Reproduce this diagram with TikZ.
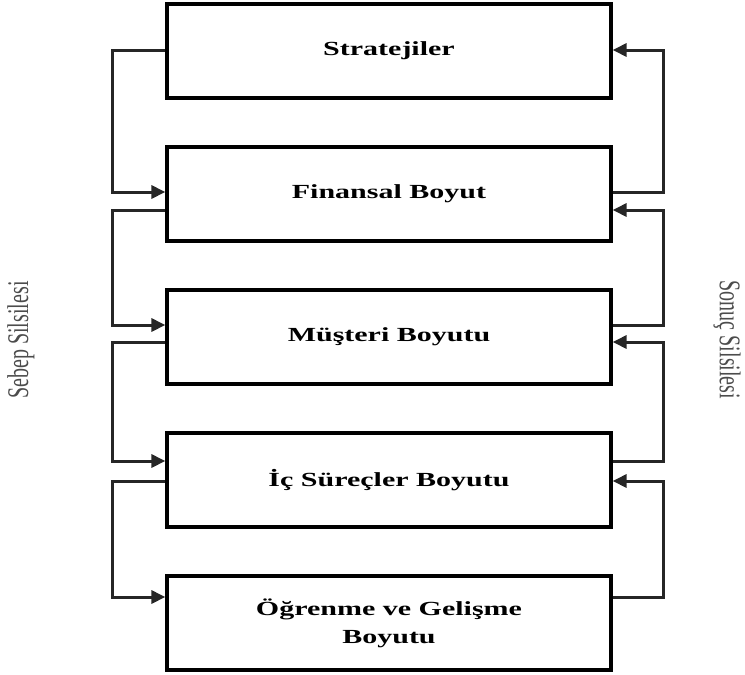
\documentclass[tikz,border=0pt]{standalone}
\usepackage{fontspec}
\setmainfont[FakeStretch=1.5]{Liberation Serif}
\newfontfamily\sidefont{Liberation Serif}
\usepackage{graphicx}
\usetikzlibrary{arrows.meta}
\begin{document}
\begin{tikzpicture}[x=1pt, y=-1pt,
  every node/.style={font=\bfseries\fontsize{20}{28}\selectfont},
  dimbox/.style={draw, line width=3.2pt, minimum width=444pt, minimum height=94pt,
    align=center, inner sep=0pt},
  link/.style={line width=3pt, color=black!85, -{Triangle[length=14pt, width=13pt]}},
  sidelabel/.style={font=\sidefont\mdseries\fontsize{20}{24}\selectfont, text=black!70},
]
\useasboundingbox (0,0) rectangle (745,675);
% BOXES
\node[dimbox] (strat) at (389, 51) {Stratejiler};
\node[dimbox] (fin) at (389, 194) {Finansal Boyut};
\node[dimbox] (must) at (389, 337) {Müşteri Boyutu};
\node[dimbox] (ic) at (389, 480) {İç Süreçler Boyutu};
\node[dimbox] (ogr) at (389, 623) {Öğrenme ve Gelişme\\Boyutu};
% LEFT CHAIN
\draw[link] ([yshift=1pt]strat.west) -- ++(-53,0) |- ([yshift=2pt]fin.west);
\draw[link] ([yshift=-16pt]fin.west) -- ++(-53,0) |- ([yshift=12pt]must.west);
\draw[link] ([yshift=-5pt]must.west) -- ++(-53,0) |- ([yshift=19pt]ic.west);
\draw[link] ([yshift=-1pt]ic.west) -- ++(-53,0) |- ([yshift=26pt]ogr.west);
% RIGHT CHAIN
\draw[link] ([yshift=2pt]fin.east) -- ++(51,0) |- ([yshift=1pt]strat.east);
\draw[link] ([yshift=12pt]must.east) -- ++(51,0) |- ([yshift=-16pt]fin.east);
\draw[link] ([yshift=19pt]ic.east) -- ++(51,0) |- ([yshift=-5pt]must.east);
\draw[link] ([yshift=26pt]ogr.east) -- ++(51,0) |- ([yshift=-1pt]ic.east);
% SIDE LABELS
\node[sidelabel, rotate=90] (cause) at (21, 340) {\scalebox{1}[1.5]{Sebep Silsilesi}};
\node[sidelabel, rotate=-90] (effect) at (727, 340) {\scalebox{1}[1.5]{Sonuç Silsilesi}};
\end{tikzpicture}
\end{document}
